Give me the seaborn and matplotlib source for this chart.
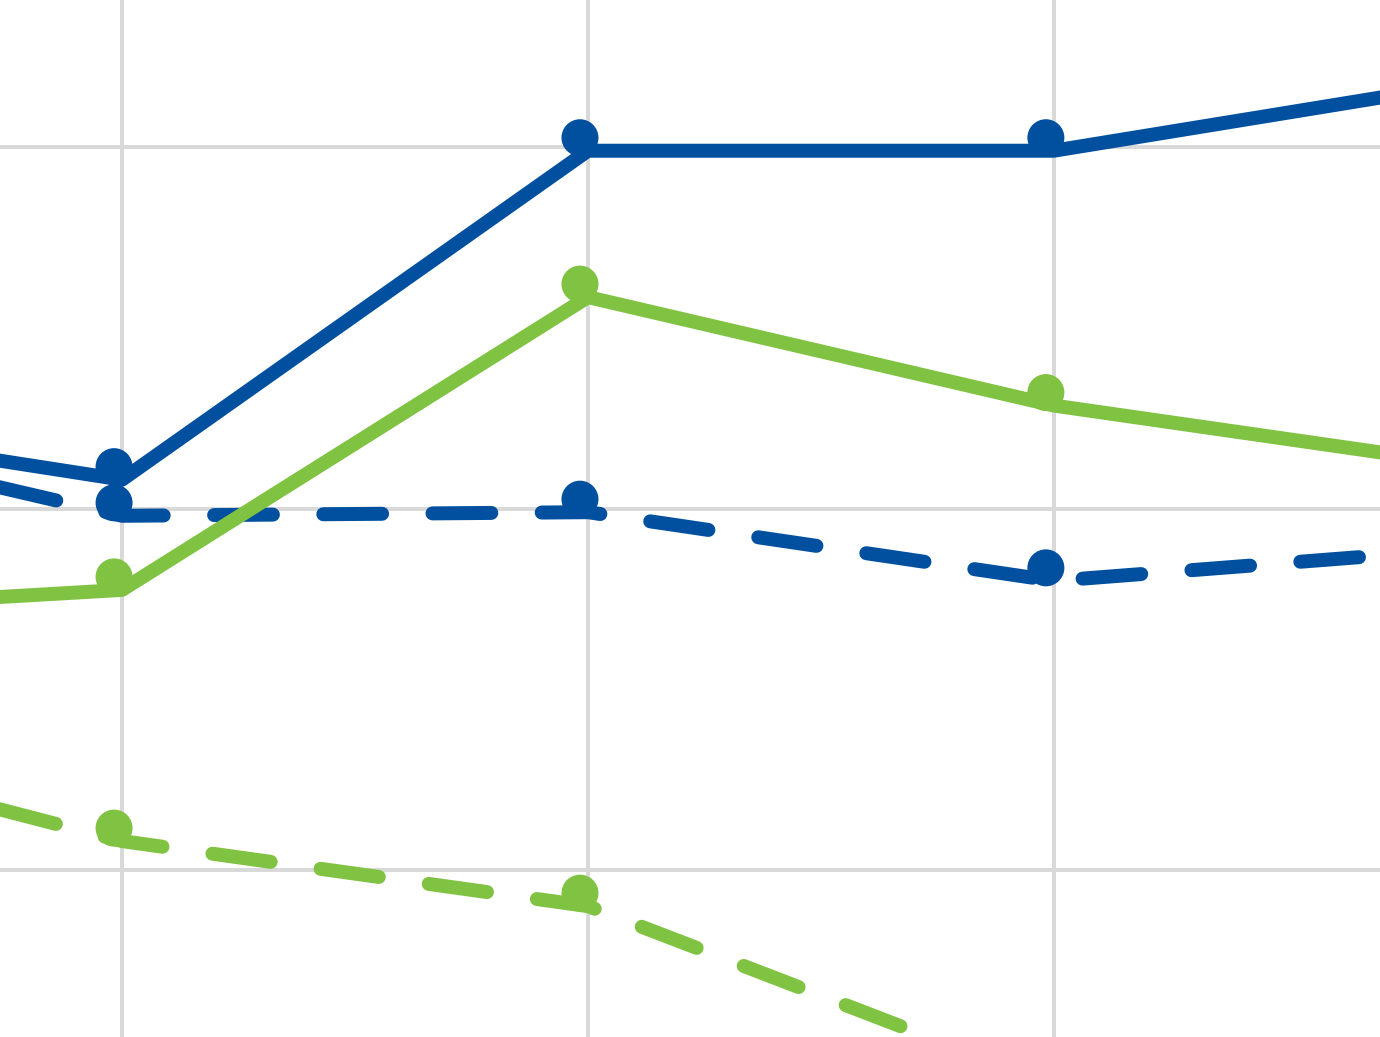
import pandas as pd
import matplotlib.pyplot as plt
import seaborn as sns
from matplotlib.transforms import offset_copy

# ---------------- DATA ----------------
periods = [0, 1, 2, 3, 4]
blue_solid = [82.8, 80.8, 89.9, 89.9, 92.0]
green_solid = [77.0, 77.75, 85.85, 82.85, 81.0]
blue_dashed = [82.8, 79.8, 79.9, 78.0, 79.0]
green_dashed = [74.15, 70.8, 69.0, 64.05, 62.0]

series = {
    ("blue", "solid"): blue_solid,
    ("green", "solid"): green_solid,
    ("blue", "dashed"): blue_dashed,
    ("green", "dashed"): green_dashed,
}

rows = []
for (colour, kind), vals in series.items():
    for p, v in zip(periods, vals):
        rows.append({"period": p, "value": v, "colour": colour, "kind": kind})
df = pd.DataFrame(rows)

palette = {"blue": "#00509f", "green": "#80c342"}

# ---------------- STYLE ----------------
sns.set_style("white")
dpi = 100
fig = plt.figure(figsize=(13.8, 10.37), dpi=dpi)
ax = fig.add_axes([0, 0, 1, 1])

lw = 14 * 72 / dpi  # ~14 px

sns.lineplot(
    data=df, x="period", y="value", hue="colour", style="kind",
    palette=palette, dashes={"solid": "", "dashed": (4.2, 3.6)},
    linewidth=lw, legend=False, sort=False, ax=ax,
)
for line in ax.get_lines():
    line.set_dash_capstyle("round")
    line.set_solid_capstyle("round")
    line.set_solid_joinstyle("round")

# markers sit a little up and left of the line vertices, as in the picture
sns.scatterplot(
    data=df, x="period", y="value", hue="colour", palette=palette,
    s=(37 * 72 / dpi) ** 2, linewidth=0, legend=False, ax=ax, zorder=3,
)
marker_coll = ax.collections[-1]
marker_coll.set_offset_transform(offset_copy(ax.transData, fig=fig, x=-8, y=13, units="dots"))

# ---------------- AXES ----------------
ax.set_xlim(0.738, 3.70)
ax.set_ylim(65.38, 94.07)
ax.set_xticks([1, 2, 3])
ax.set_yticks([70, 80, 90])
ax.grid(True, color="#d9d9d9", linewidth=4 * 72 / dpi)
ax.set_axisbelow(True)
ax.tick_params(length=0, labelbottom=False, labelleft=False)
ax.set_xlabel("")
ax.set_ylabel("")
for s in ax.spines.values():
    s.set_visible(False)

fig.savefig("out.png", dpi=dpi)
